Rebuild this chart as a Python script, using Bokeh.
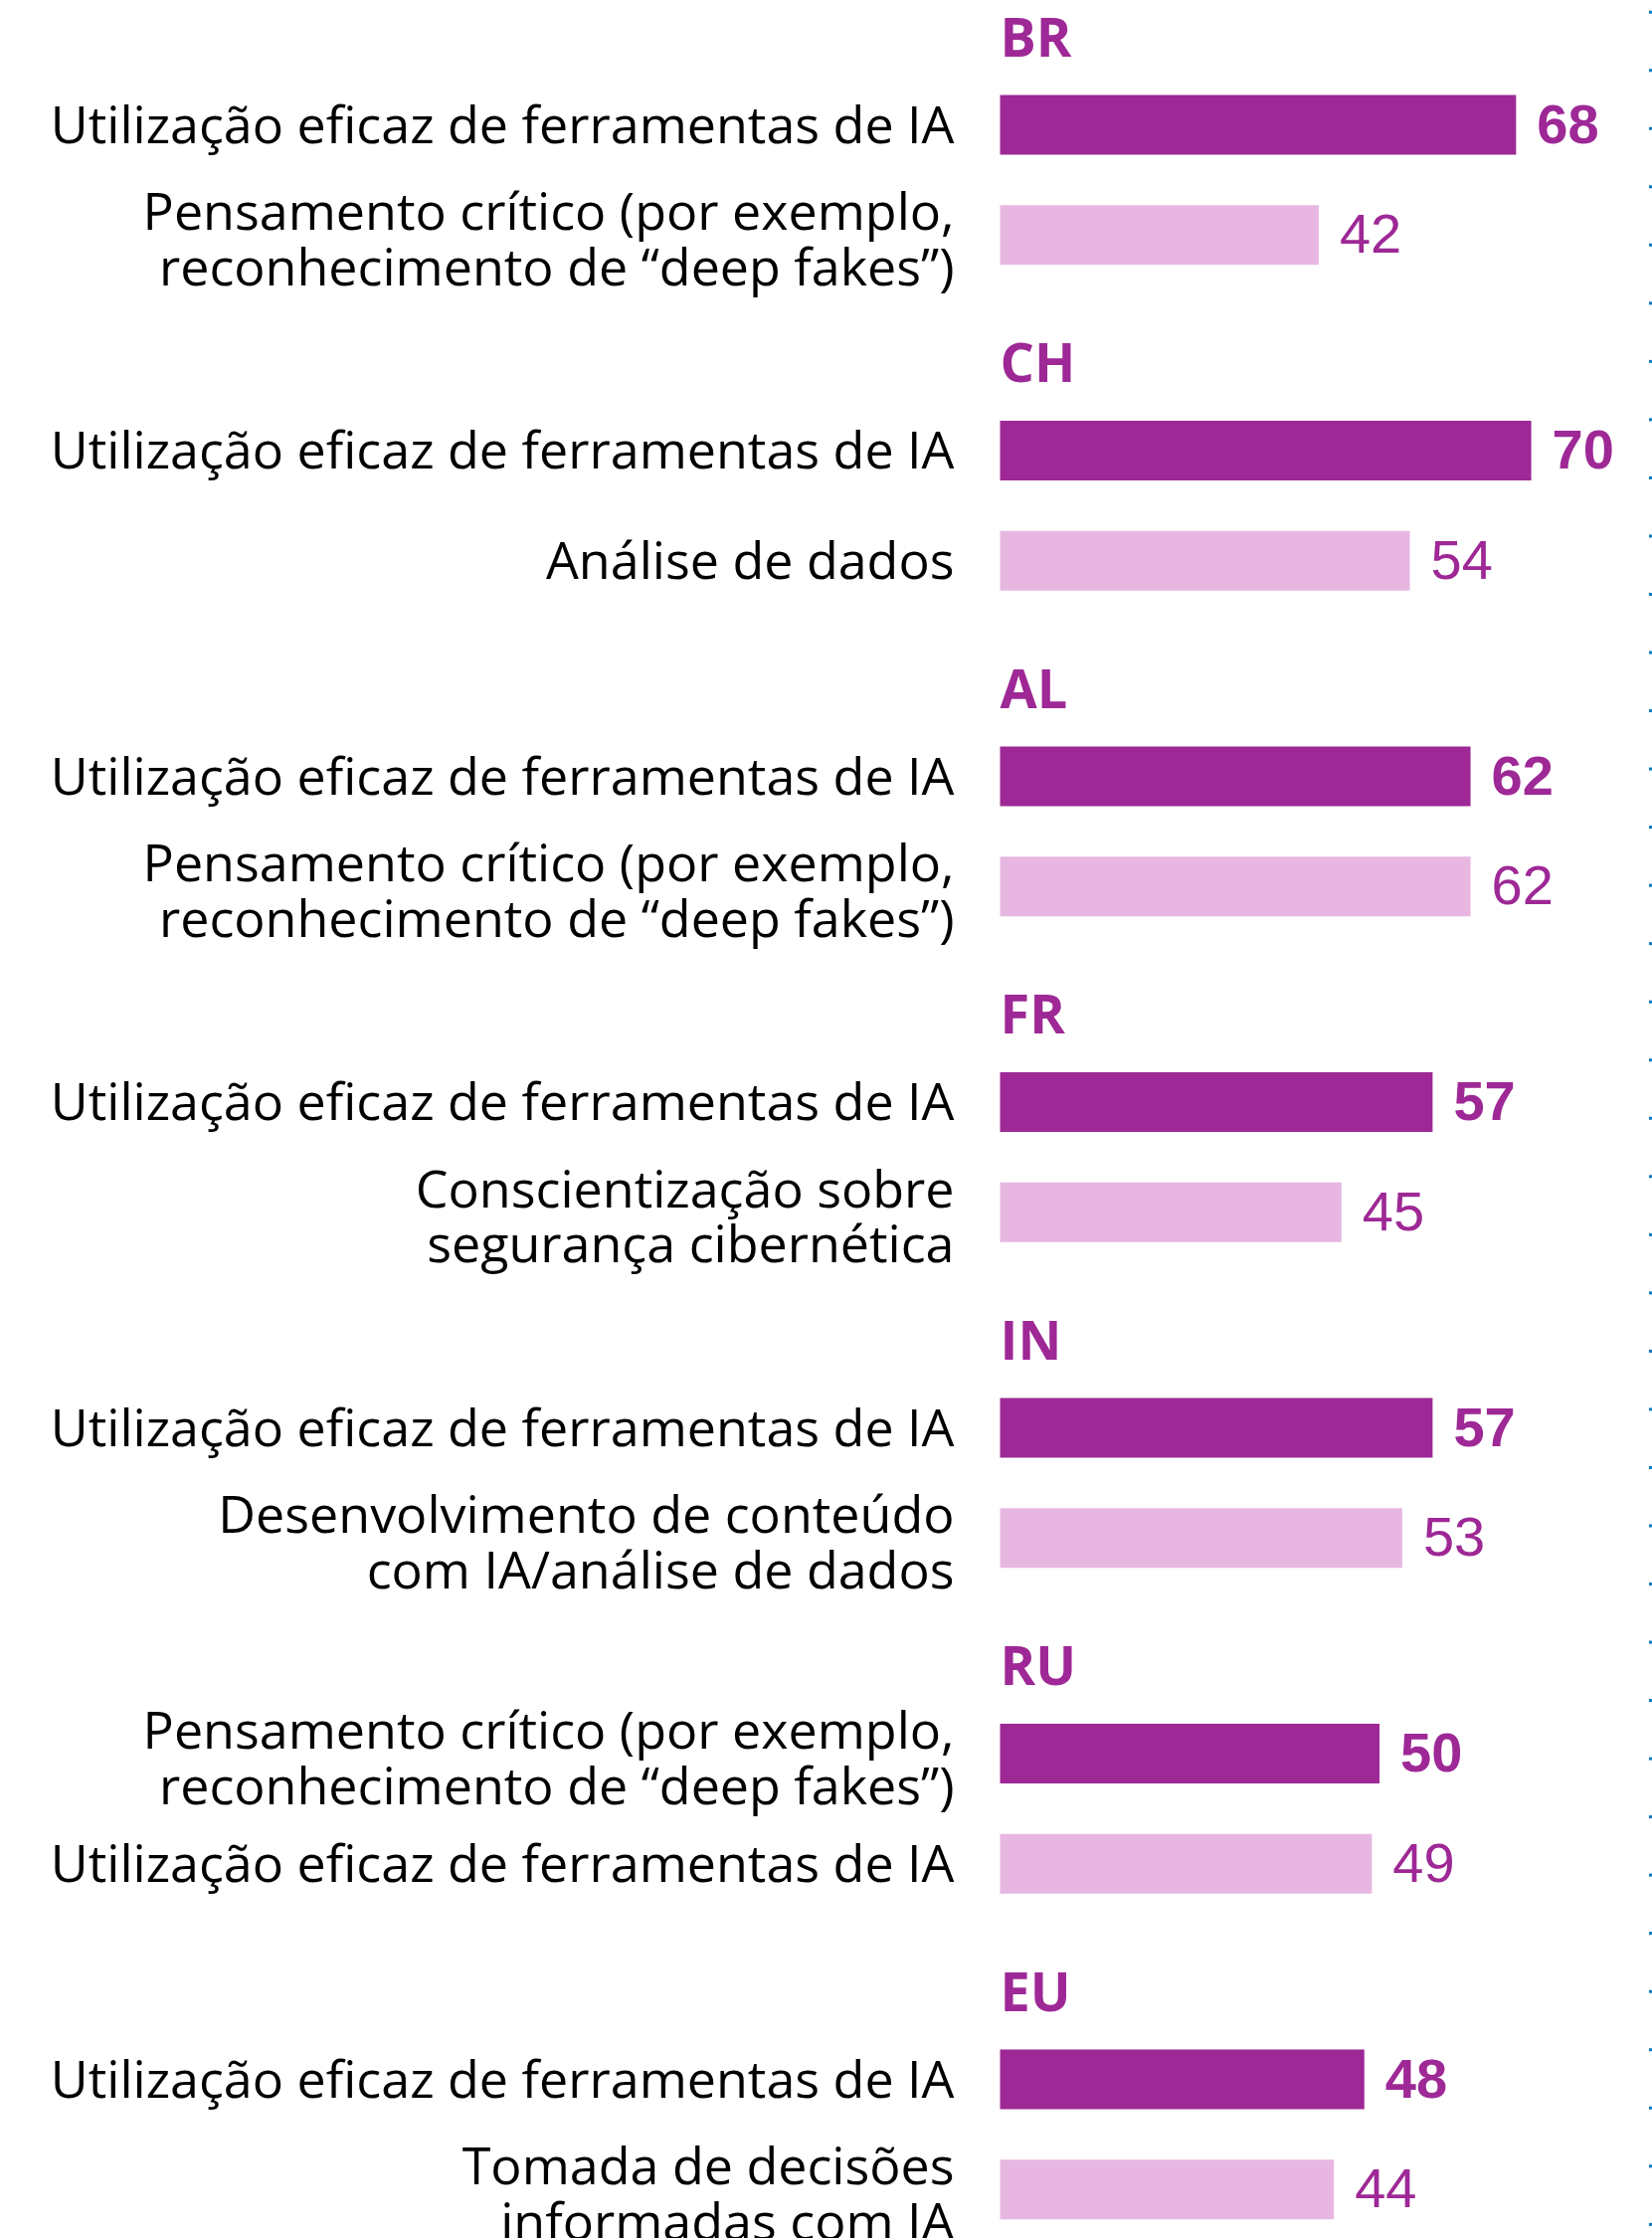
import numpy as np
from bokeh.plotting import figure
from bokeh.models import Range1d
from bokeh.embed import file_html
from bokeh.resources import INLINE
from bokeh.core.properties import value

# ---------------- data ----------------
countries = ["BR", "CH", "AL", "FR", "IN", "RU", "EU"]
first_skill = [
    "Utilização eficaz de ferramentas de IA",
    "Utilização eficaz de ferramentas de IA",
    "Utilização eficaz de ferramentas de IA",
    "Utilização eficaz de ferramentas de IA",
    "Utilização eficaz de ferramentas de IA",
    "Pensamento crítico (por exemplo,\nreconhecimento de “deep fakes”)",
    "Utilização eficaz de ferramentas de IA",
]
first_value = [68, 70, 62, 57, 57, 50, 48]
second_skill = [
    "Pensamento crítico (por exemplo,\nreconhecimento de “deep fakes”)",
    "Análise de dados",
    "Pensamento crítico (por exemplo,\nreconhecimento de “deep fakes”)",
    "Conscientização sobre\nsegurança cibernética",
    "Desenvolvimento de conteúdo\ncom IA/análise de dados",
    "Utilização eficaz de ferramentas de IA",
    "Tomada de decisões\ninformadas com IA",
]
second_value = [42, 54, 62, 45, 53, 49, 44]

# ---------------- style / layout ----------------
DARK = "#9E2896"
LIGHT = "#E7B7E2"
BLUE = "#0A7CC1"
PX_PER_UNIT = 7.63
ZERO_PX = 1005
W, H = 1661, 2250
G0, STEP, ROW2, BAR_H = 125.0, 327.5, 110.7, 60

p = figure(width=W, height=H, output_backend="svg", toolbar_location=None,
           x_range=Range1d((0 - ZERO_PX) / PX_PER_UNIT, (W - ZERO_PX) / PX_PER_UNIT),
           y_range=Range1d(H, 0),
           x_axis_location=None, y_axis_location=None, min_border=0)
p.grid.visible = False
p.outline_line_color = None
p.background_fill_color = "white"
p.border_fill_color = "white"

n = len(countries)
y1 = [G0 + STEP * i for i in range(n)]
y2 = [c + ROW2 for c in y1]

p.hbar(y=y1, left=0, right=first_value, height=BAR_H, color=DARK, line_color=None)
p.hbar(y=y2, left=0, right=second_value, height=BAR_H, color=LIGHT, line_color=None)

# value labels
p.text(x=first_value, y=[c - 1 for c in y1], text=[str(v) for v in first_value],
       x_offset=21, text_baseline="alphabetic", text_align="left",
       text_font=value("Liberation Sans"), text_font_style="bold",
       text_font_size="56px", text_color=DARK)
p.text(x=second_value, y=[c - 1 for c in y2], text=[str(v) for v in second_value],
       x_offset=21, text_baseline="alphabetic", text_align="left",
       text_font=value("Liberation Sans"), text_font_style="normal",
       text_font_size="56px", text_color=DARK)

# country headers
p.text(x=[0] * n, y=[c - BAR_H / 2 - 60 for c in y1], text=countries,
       x_offset=0, text_baseline="alphabetic", text_align="left",
       text_font=value("Open Sans"), text_font_style="bold",
       text_font_size="54px", text_color=DARK)

# category labels (split into lines)
lx, ly, lt = [], [], []
for labels, centers in ((first_skill, y1), (second_skill, y2)):
    for lab, c in zip(labels, centers):
        lines = lab.split("\n")
        if len(lines) == 1:
            bases = [c - 2.5]
        else:
            bases = [c - 25.5, c + 30]
        for t, b in zip(lines, bases):
            lx.append(0)
            ly.append(b)
            lt.append(t)
p.text(x=lx, y=ly, text=lt, x_offset=-46, text_baseline="alphabetic",
       text_align="right", text_font=value("Open Sans"),
       text_font_size="52px", text_color="#000000")

# dotted blue edge line
dots_y = np.arange(11.7, H, 58.53)
p.scatter(x=[(1659 - ZERO_PX) / PX_PER_UNIT] * len(dots_y), y=dots_y,
          marker="square", size=3, color=BLUE, line_color=None)

open("out.html", "w").write(file_html(p, INLINE))
